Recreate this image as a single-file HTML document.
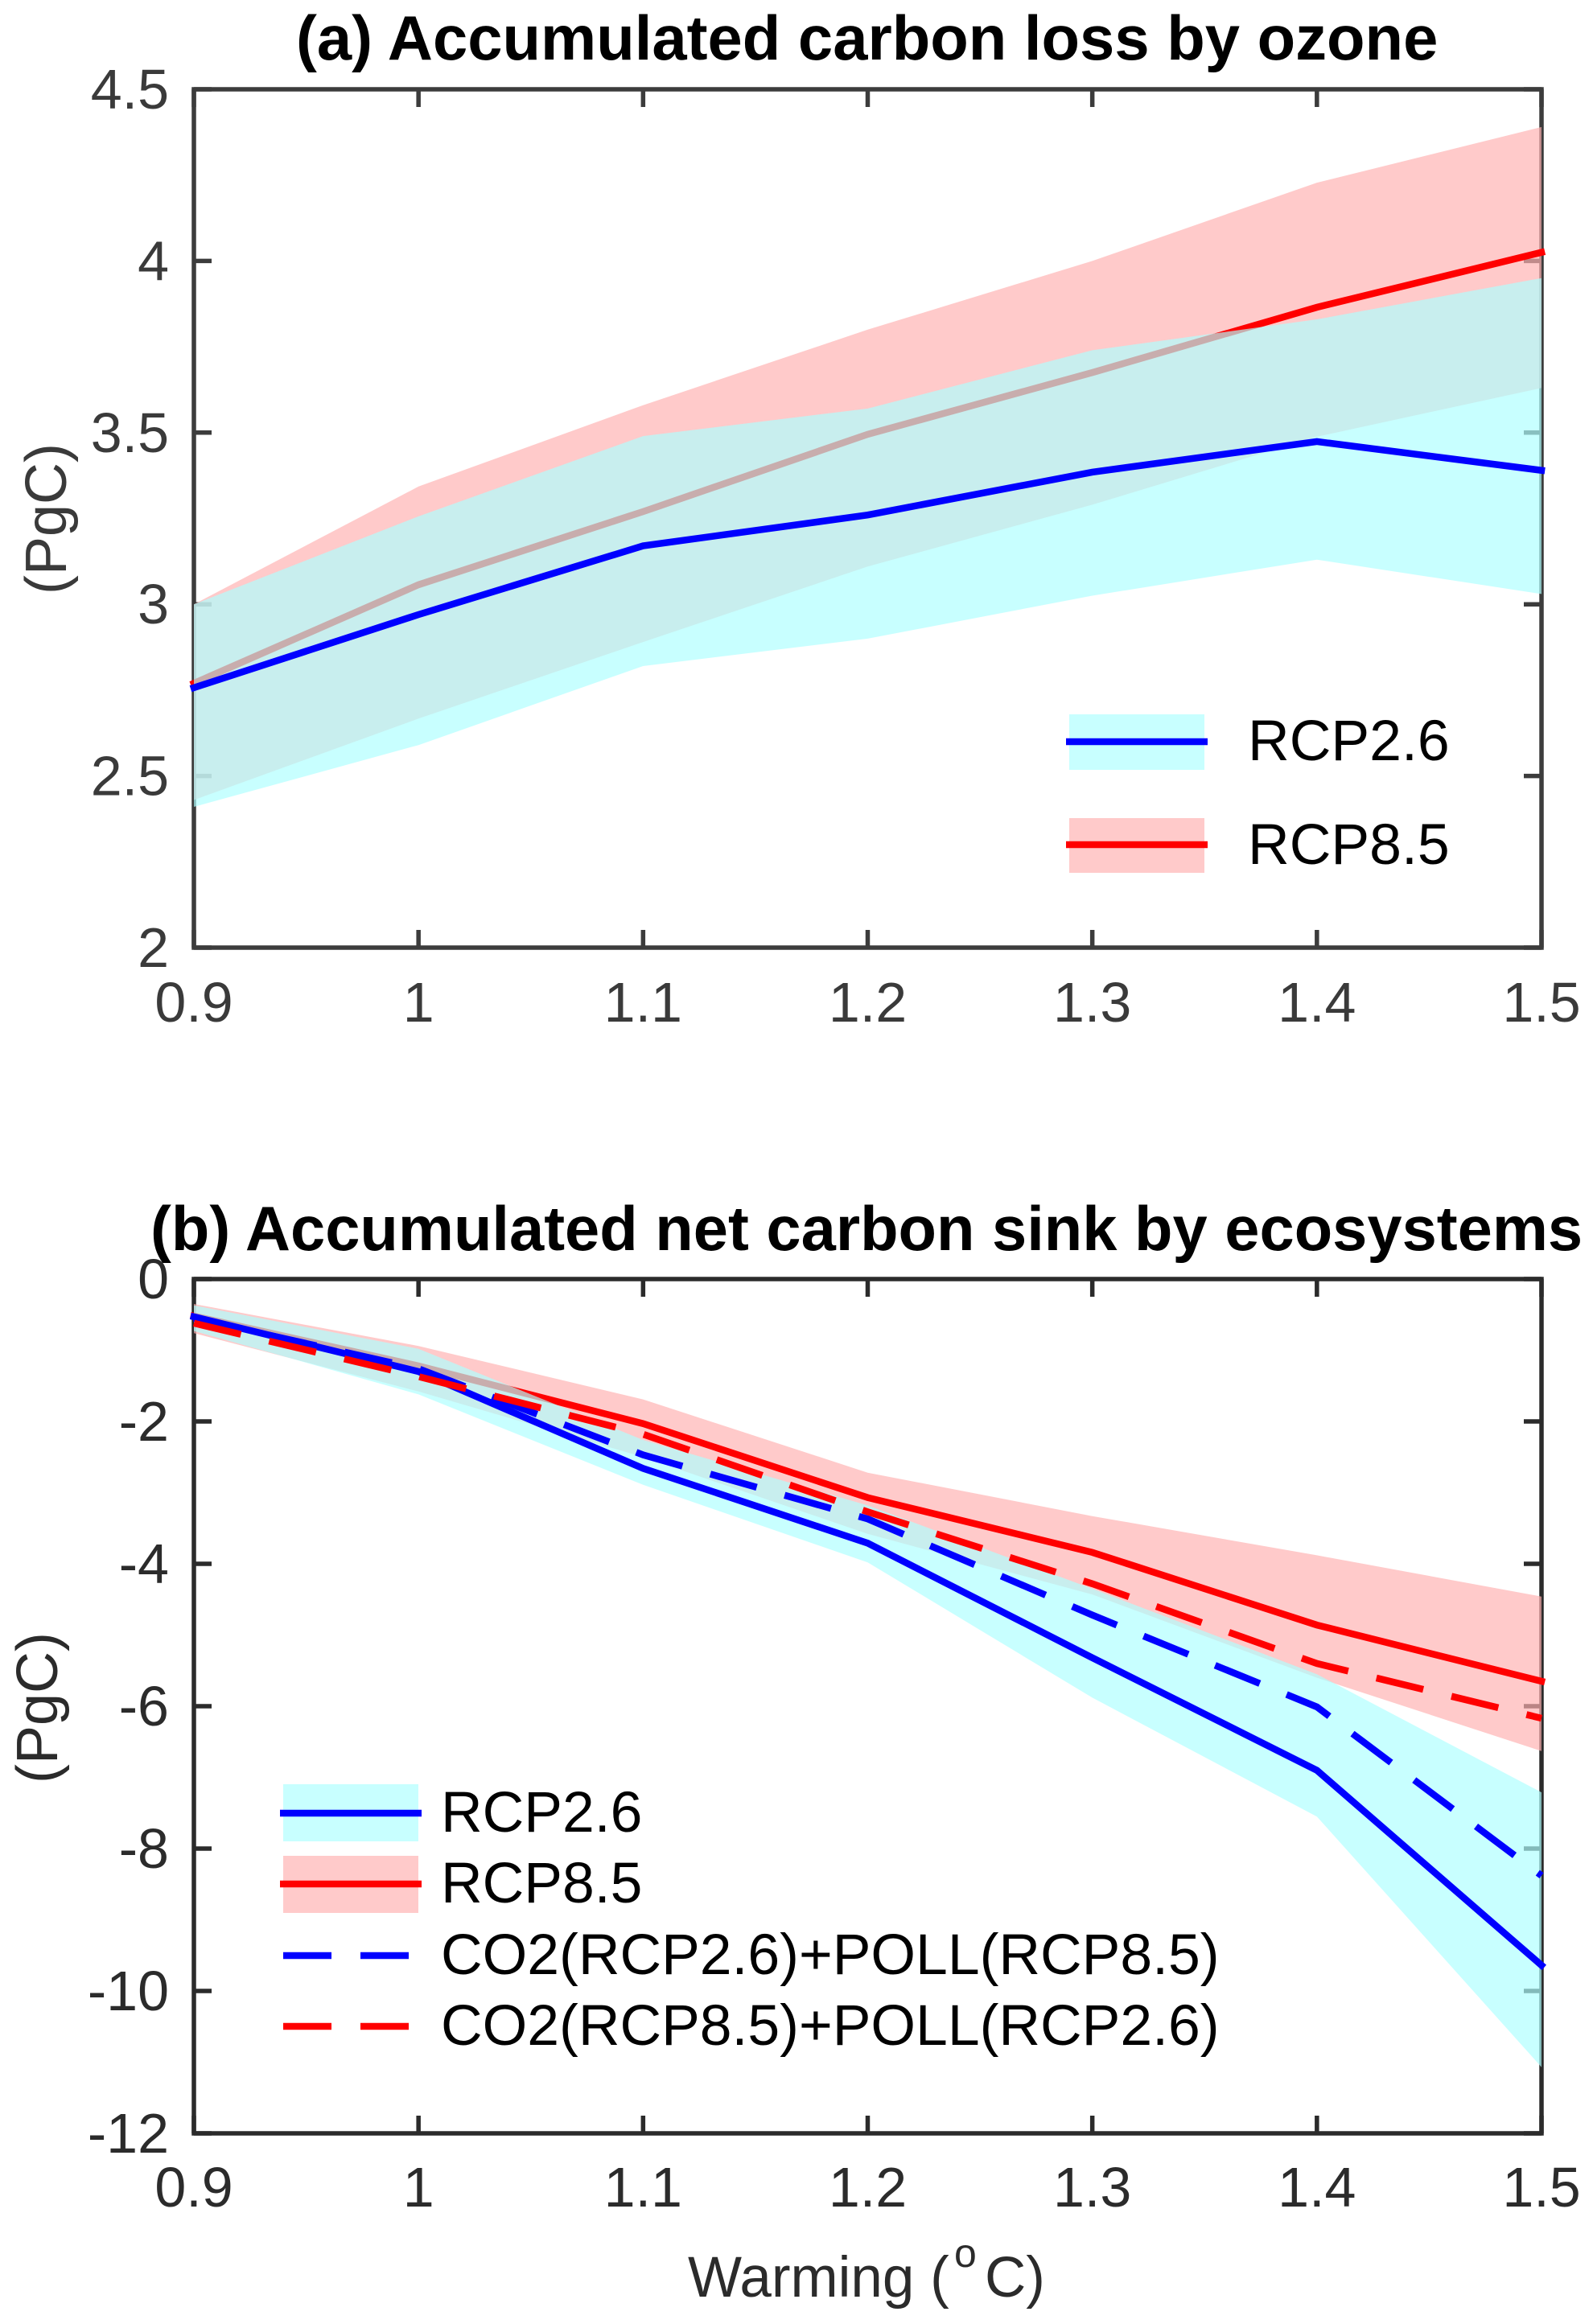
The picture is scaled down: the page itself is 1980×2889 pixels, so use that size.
<!DOCTYPE html>
<html lang="en">
<head>
<meta charset="utf-8">
<title>Accumulated carbon loss by ozone and net carbon sink</title>
<style>
html,body{margin:0;padding:0;background:#fff;}
svg{display:block;}
text{font-family:"Liberation Sans",Arial,sans-serif;}
</style>
</head>
<body>
<svg id="chart" xmlns="http://www.w3.org/2000/svg" width="1980" height="2889" viewBox="0 0 1980 2889">
  <rect x="0" y="0" width="1980" height="2889" fill="#fff"/>

  <g id="panel-a">
    <text x="368" y="74" font-size="77.8" font-weight="bold" fill="#000">(a) Accumulated carbon loss by ozone</text>
    <g id="a-axes"></g>
    <g id="a-marks"></g>
    <text transform="translate(82,645) rotate(-90)" text-anchor="middle" font-size="72" fill="#3a3a3a">(PgC)</text>
    <g>
      <rect x="1329" y="888" width="168" height="69" fill="#c8ffff"/>
      <line x1="1325" x2="1501" y1="922" y2="922" stroke="#0000ff" stroke-width="8.5"/>
      <text x="1551" y="945" font-size="71.6" fill="#000">RCP2.6</text>
      <rect x="1329" y="1017" width="168" height="68" fill="#ffcaca"/>
      <line x1="1325" x2="1501" y1="1050" y2="1050" stroke="#ff0000" stroke-width="8.5"/>
      <text x="1551" y="1074" font-size="71.6" fill="#000">RCP8.5</text>
    </g>
  </g>

  <g id="panel-b">
    <text x="187" y="1554" font-size="77.7" font-weight="bold" fill="#000">(b) Accumulated net carbon sink by ecosystems</text>
    <g id="b-axes"></g>
    <g id="b-marks"></g>
    <text transform="translate(71,2123) rotate(-90)" text-anchor="middle" font-size="72" fill="#2b2b2b">(PgC)</text>
    <text y="2855" font-size="71" fill="#2b2b2b"><tspan x="855">Warming (</tspan><tspan x="1186" y="2818" font-size="50">o</tspan><tspan x="1224" y="2855">C)</tspan></text>
    <g>
      <rect x="352" y="2218" width="168" height="71" fill="#c8ffff"/>
      <line x1="348" x2="524" y1="2254" y2="2254" stroke="#0000ff" stroke-width="8.5"/>
      <text x="548" y="2277" font-size="71.5" fill="#000">RCP2.6</text>
      <rect x="352" y="2307" width="168" height="71" fill="#ffcaca"/>
      <line x1="348" x2="524" y1="2342" y2="2342" stroke="#ff0000" stroke-width="8.5"/>
      <text x="548" y="2365" font-size="71.5" fill="#000">RCP8.5</text>
      <line x1="352" x2="508" y1="2431" y2="2431" stroke="#0000ff" stroke-width="8.5" stroke-dasharray="60 36"/>
      <text x="548" y="2454" font-size="71.5" fill="#000">CO2(RCP2.6)+POLL(RCP8.5)</text>
      <line x1="352" x2="508" y1="2519" y2="2519" stroke="#ff0000" stroke-width="8.5" stroke-dasharray="60 36"/>
      <text x="548" y="2542" font-size="71.5" fill="#000">CO2(RCP8.5)+POLL(RCP2.6)</text>
    </g>
  </g>
</svg>

<script>
// Shared x categories
const warming = [0.9, 1.0, 1.1, 1.2, 1.3, 1.4, 1.5];
const xTickLabels = ['0.9', '1', '1.1', '1.2', '1.3', '1.4', '1.5'];

// Panel (a) values
const aYTicks = [2, 2.5, 3, 3.5, 4, 4.5];
const aYTickLabels = ['2', '2.5', '3', '3.5', '4', '4.5'];
const aRcp26 = [2.757, 2.97, 3.17, 3.26, 3.385, 3.474, 3.39];
const aRcp26Upper = [3.0, 3.256, 3.49, 3.57, 3.74, 3.83, 3.95];
const aRcp26Lower = [2.41, 2.59, 2.82, 2.90, 3.025, 3.13, 3.03];
const aRcp85 = [2.77, 3.057, 3.27, 3.495, 3.675, 3.865, 4.025];
const aRcp85Upper = [3.0, 3.343, 3.58, 3.80, 4.0, 4.228, 4.39];
const aRcp85Lower = [2.43, 2.667, 2.89, 3.11, 3.29, 3.488, 3.63];

// Panel (b) values
const bYTicks = [-12, -10, -8, -6, -4, -2, 0];
const bYTickLabels = ['-12', '-10', '-8', '-6', '-4', '-2', '0'];
const bRcp26 = [-0.53, -1.30, -2.66, -3.71, -5.32, -6.90, -9.64];
const bRcp26Upper = [-0.37, -0.98, -2.26, -3.18, -4.35, -5.55, -7.21];
const bRcp26Lower = [-0.73, -1.62, -2.89, -3.98, -5.88, -7.55, -11.07];
const bRcp85 = [-0.52, -1.22, -2.03, -3.07, -3.84, -4.86, -5.65];
const bRcp85Upper = [-0.35, -0.94, -1.69, -2.72, -3.33, -3.88, -4.46];
const bRcp85Lower = [-0.76, -1.58, -2.50, -3.58, -4.43, -5.60, -6.63];
const bCo2Rcp26 = [-0.55, -1.26, -2.47, -3.37, -4.72, -6.01, -8.38];
const bCo2Rcp85 = [-0.62, -1.37, -2.18, -3.27, -4.28, -5.40, -6.17];

const NS = 'http://www.w3.org/2000/svg';
const plotLeft = 241, plotRight = 1916;

function xScale(v) { return plotLeft + (v - 0.9) / 0.6 * (plotRight - plotLeft); }
function yScaleA(v) { return 1178 - (v - 2) / 2.5 * (1178 - 111); }
function yScaleB(v) { return 1590 + (0 - v) / 12 * (2652 - 1590); }

function mk(tag, attrs, parent) {
  const el = document.createElementNS(NS, tag);
  for (const k in attrs) el.setAttribute(k, attrs[k]);
  parent.appendChild(el);
  return el;
}

function linePoints(vals, yScale) {
  return warming.map((w, i) => xScale(w).toFixed(1) + ',' + yScale(vals[i]).toFixed(1)).join(' ');
}

function bandPoints(upper, lower, yScale) {
  const top = warming.map((w, i) => xScale(w).toFixed(1) + ',' + yScale(upper[i]).toFixed(1));
  const bot = warming.map((w, i) => xScale(w).toFixed(1) + ',' + yScale(lower[i]).toFixed(1)).reverse();
  return top.concat(bot).join(' ');
}

function drawAxes(group, yScale, yTicks, yLabels, xBaseline, color, textColor) {
  const top = yScale(yTicks[yTicks.length - 1]);
  const bottom = yScale(yTicks[0]);
  const frame = mk('rect', {x: plotLeft, y: top, width: plotRight - plotLeft, height: bottom - top, fill: 'none', stroke: color, 'stroke-width': 5.5}, group);
  
  
  warming.forEach((w, i) => {
    const px = xScale(w);
    const t1 = mk('line', {x1: px, x2: px, y1: bottom, y2: bottom - 22, stroke: color, 'stroke-width': 5.5}, group);
    
    
    const t2 = mk('line', {x1: px, x2: px, y1: top, y2: top + 22, stroke: color, 'stroke-width': 5.5}, group);
    
    
    const lab = mk('text', {x: px, y: xBaseline, 'text-anchor': 'middle', 'font-size': 70, fill: textColor}, group);
    
    
    lab.textContent = xTickLabels[i];
  });
  yTicks.forEach((v, i) => {
    const py = yScale(v);
    const t1 = mk('line', {x1: plotLeft, x2: plotLeft + 22, y1: py, y2: py, stroke: color, 'stroke-width': 5.5}, group);
    
    
    const t2 = mk('line', {x1: plotRight, x2: plotRight - 22, y1: py, y2: py, stroke: color, 'stroke-width': 5.5}, group);
    
    
    const lab = mk('text', {x: 210, y: py + 24, 'text-anchor': 'end', 'font-size': 70, fill: textColor}, group);
    
    
    lab.textContent = yLabels[i];
  });
}

function drawBand(group, upper, lower, yScale, fill, name) {
  const el = mk('polygon', {points: bandPoints(upper, lower, yScale), fill: fill, 'fill-opacity': 0.68, stroke: 'none'}, group);
  
  
}

function drawSolid(group, vals, yScale, color, name) {
  const el = mk('polyline', {points: linePoints(vals, yScale), fill: 'none', stroke: color, 'stroke-width': 8.5, 'stroke-linecap': 'square', 'stroke-linejoin': 'miter'}, group);
  
  
}

function drawDashed(group, vals, yScale, color, name) {
  const el = mk('polyline', {points: linePoints(vals, yScale), fill: 'none', stroke: color, 'stroke-width': 8.5, 'stroke-dasharray': '60 36', 'stroke-linejoin': 'miter'}, group);
  
  
}

const aAxes = document.getElementById('a-axes');
const aMarks = document.getElementById('a-marks');
const bAxes = document.getElementById('b-axes');
const bMarks = document.getElementById('b-marks');

drawAxes(aAxes, yScaleA, aYTicks, aYTickLabels, 1270, '#3c3c3c', '#3a3a3a');
drawBand(aMarks, aRcp85Upper, aRcp85Lower, yScaleA, 'rgb(255,177,177)', 'rcp85-range-band');
drawSolid(aMarks, aRcp85, yScaleA, '#ff0000', 'rcp85-line');
drawBand(aMarks, aRcp26Upper, aRcp26Lower, yScaleA, 'rgb(174,255,255)', 'rcp26-range-band');
drawSolid(aMarks, aRcp26, yScaleA, '#0000ff', 'rcp26-line');

drawAxes(bAxes, yScaleB, bYTicks, bYTickLabels, 2743, '#2b2b2b', '#2b2b2b');
drawBand(bMarks, bRcp85Upper, bRcp85Lower, yScaleB, 'rgb(255,177,177)', 'rcp85-range-band');
drawSolid(bMarks, bRcp85, yScaleB, '#ff0000', 'rcp85-line');
drawBand(bMarks, bRcp26Upper, bRcp26Lower, yScaleB, 'rgb(174,255,255)', 'rcp26-range-band');
drawSolid(bMarks, bRcp26, yScaleB, '#0000ff', 'rcp26-line');
drawDashed(bMarks, bCo2Rcp26, yScaleB, '#0000ff', 'co2-rcp26-poll-rcp85-line');
drawDashed(bMarks, bCo2Rcp85, yScaleB, '#ff0000', 'co2-rcp85-poll-rcp26-line');
</script>
</body>
</html>
